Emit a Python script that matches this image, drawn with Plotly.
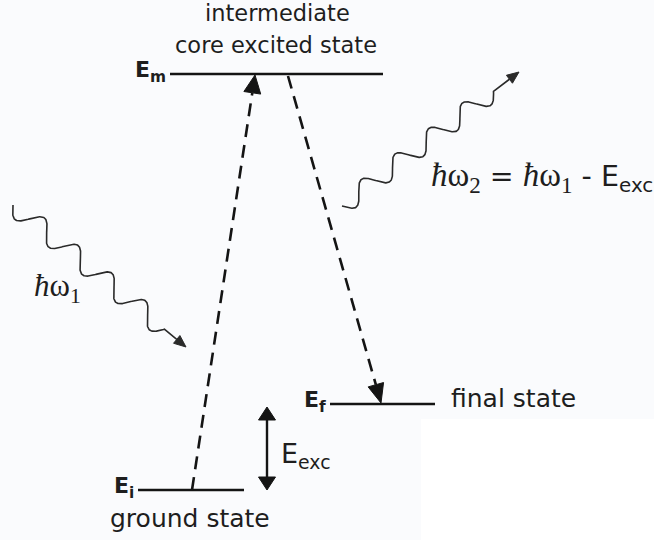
import numpy as np
import plotly.graph_objects as go

# Energy levels: label, height on the page (y grows downward) and horizontal extent
level_labels = ["E<sub>m</sub>", "E<sub>f</sub>", "E<sub>i</sub>"]
level_y = [74, 404, 490]
level_x0 = [170, 330, 138]
level_x1 = [383, 435, 244]

# Dashed transitions: absorption E_i -> E_m and emission E_m -> E_f
absorb_x = [192, 255]
emit_x = [288, 381]

# Double arrow marking the excitation energy E_exc (between E_f and E_i)
exc_x = 267

# Photons: start of the wavy line and arrow tip
photon_in = [(13, 205), (186, 347)]
photon_out = [(342, 206), (519, 72)]

INK = "#141414"
WAVE = "#2a2a2a"
SANS = "DejaVu Sans"
SERIF = "Liberation Serif"

fig = go.Figure()


def add_line(xs, ys, color=INK, width=2.5, dash=None):
    fig.add_trace(go.Scatter(x=xs, y=ys, mode="lines", hoverinfo="skip",
                             line=dict(color=color, width=width, dash=dash)))


def add_head(tip, direction, length, half_w, color=INK):
    d = np.asarray(direction, float)
    d /= np.linalg.norm(d)
    n = np.array([-d[1], d[0]])
    t = np.asarray(tip, float)
    base = t - length * d
    pts = np.array([t, base + half_w * n, base - half_w * n, t])
    fig.add_trace(go.Scatter(x=pts[:, 0], y=pts[:, 1], mode="lines", fill="toself",
                             fillcolor=color, line=dict(color=color, width=1),
                             hoverinfo="skip"))
    return base


def add_photon(p0, p1, periods, amp, tail, head_len, head_w):
    p0 = np.asarray(p0, float)
    p1 = np.asarray(p1, float)
    d = p1 - p0
    L = np.linalg.norm(d)
    u = d / L
    p = np.array([-u[1], u[0]])
    lw = L - tail
    s = np.linspace(0, lw, 800)
    k = 2 * np.pi * periods / lw
    pts = p0 + np.outer(s, u) + np.outer(amp * np.sin(k * s), p)
    base = p1 - head_len * u
    pts = np.vstack([pts, base])
    add_line(pts[:, 0], pts[:, 1], color=WAVE, width=1.6)
    add_head(p1, u, head_len, head_w, color=WAVE)


# background patch (lighter lower-right corner)
fig.add_shape(type="rect", x0=421, x1=654, y0=419, y1=540, layer="below",
              fillcolor="#ffffff", line=dict(width=0))

# level lines
for y, x0, x1 in zip(level_y, level_x0, level_x1):
    add_line([x0, x1], [y, y], width=2.6)

y_m, y_f, y_i = level_y

# absorption: dashed arrow from E_i up to E_m
tip = (absorb_x[1], y_m + 1)
base = add_head(tip, (absorb_x[1] - absorb_x[0], y_m - y_i), 18, 8.5)
add_line([absorb_x[0], base[0]], [y_i, base[1]], width=2.6, dash="13px,8px")

# emission: dashed arrow from E_m down to E_f
tip = (emit_x[1], y_f - 1)
base = add_head(tip, (emit_x[1] - emit_x[0], y_f - y_m), 19, 8)
add_line([emit_x[0], base[0]], [y_m + 2, base[1]], width=2.6, dash="13px,8px")

# E_exc double arrow
top_tip = (exc_x, y_f + 3)
bot_tip = (exc_x, y_i)
b1 = add_head(top_tip, (0, -1), 13, 8.5)
b2 = add_head(bot_tip, (0, 1), 13, 8.5)
add_line([exc_x, exc_x], [b1[1], b2[1]], width=2.4)

# photons
add_photon(photon_in[0], photon_in[1], 4.5, 10.0, 28, 12, 5)
add_photon(photon_out[0], photon_out[1], 4.5, 9.5, 32, 12, 5)


def text(x, y, s, size, xanchor="left", family=SANS, weight="normal", color="#1e1e1e"):
    fig.add_annotation(x=x, y=y, text=s, showarrow=False, xanchor=xanchor,
                       yanchor="middle", xref="x", yref="y",
                       font=dict(family=family, size=size, color=color, weight=weight))


# state names
text(277, 13, "intermediate", 22.5, xanchor="center")
text(276, 45, "core excited state", 22.5, xanchor="center")
text(449, 398, "final state", 25)
text(108, 518, "ground state", 25)

# level labels
label_x = [168, 328, 136]
for lab, y, x in zip(level_labels, level_y, label_x):
    text(x, y - 3, lab, 22, xanchor="right", weight="bold")

# excitation energy label
text(279, 455, "E<sub>exc</sub>", 27)

# photon energies
hw = "<span style=\"font-family:Liberation Serif;font-size:{s}px\"><i>ħ</i>ω<sub>{n}</sub></span>"
text(32, 288, hw.format(s=31, n=1), 27)
text(429, 177, hw.format(s=33, n=2) + " = " + hw.format(s=33, n=1) + " - E<sub>exc</sub>", 28.5)

fig.update_layout(
    width=654, height=540,
    margin=dict(l=0, r=0, t=0, b=0),
    paper_bgcolor="#fafbfd", plot_bgcolor="rgba(0,0,0,0)",
    showlegend=False,
    xaxis=dict(range=[0, 654], visible=False, fixedrange=True),
    yaxis=dict(range=[540, 0], visible=False, fixedrange=True),
)

fig.write_html("out.html")
